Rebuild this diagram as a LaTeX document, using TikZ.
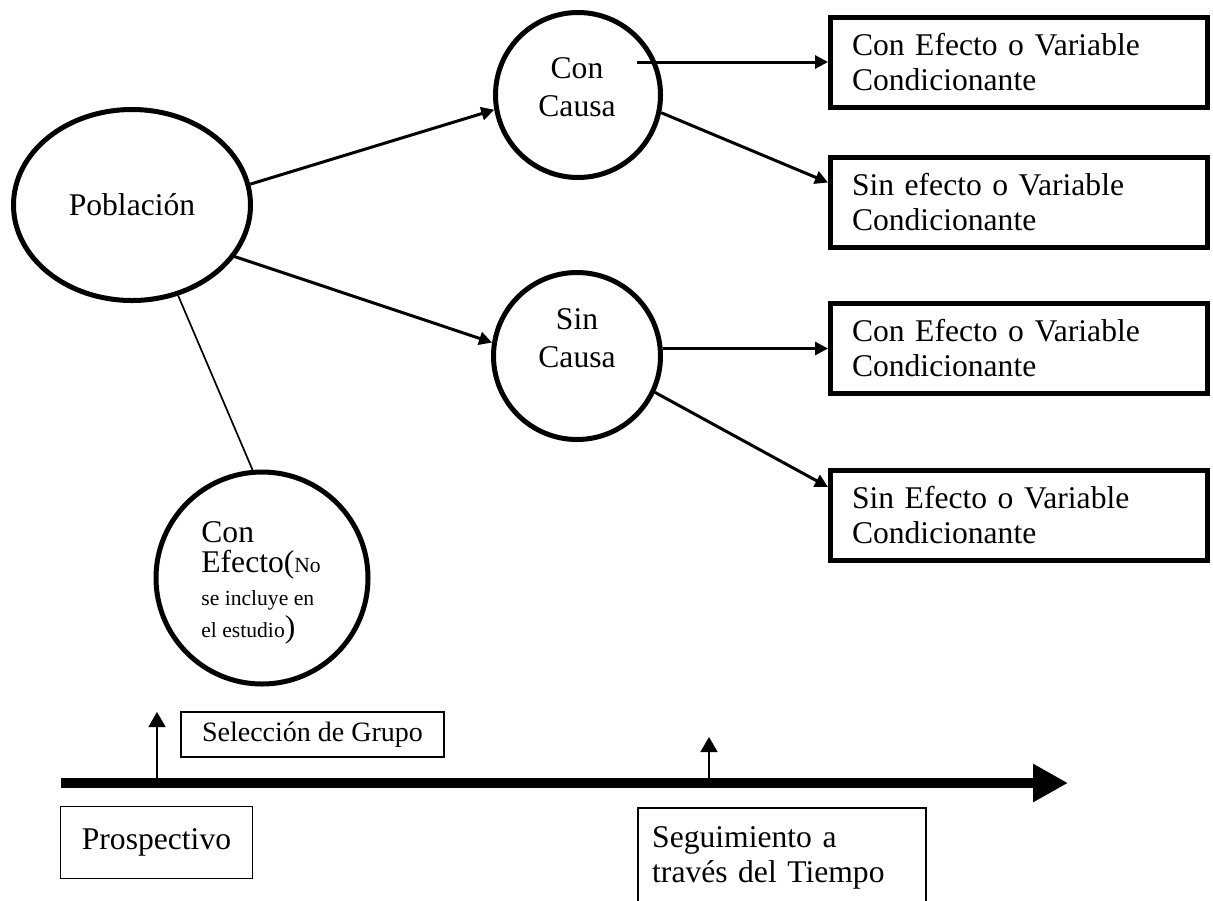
\documentclass[tikz,border=0pt]{standalone}
\usepackage{fontspec}
\setmainfont{Liberation Serif}
\usetikzlibrary{arrows.meta,calc,shapes.geometric}
\newcommand{\bigf}{\fontsize{15.8}{17.5}\selectfont}
\newcommand{\smallf}{\fontsize{10.8}{12}\selectfont}
\begin{document}
\begin{tikzpicture}[x=0.5pt,y=-0.5pt,
  thickcirc/.style={draw,circle,line width=2.5pt,inner sep=0pt},
  bigbox/.style={draw,rectangle,line width=2.5pt,minimum width=188.5pt,minimum height=45pt,
    text width=167pt,inner xsep=10.75pt,align=left,font=\bigf},
  thinbox/.style={draw,rectangle,line width=0.8pt,align=left,inner xsep=10pt},
  lbl/.style={inner sep=0pt,anchor=base west},
  arr/.style={line width=1.5pt,-{Triangle[length=6.5pt,width=6.5pt]}},
  uparr/.style={line width=0.85pt,-{Triangle[length=7.5pt,width=8.5pt]}},
  timeline/.style={line width=5pt,-{Triangle[length=17.5pt,width=18pt]}}
]
\useasboundingbox (0,0) rectangle (1213,900);

% circles / ellipse
\node[draw,ellipse,line width=2.5pt,minimum width=118.5pt,minimum height=95.5pt,inner sep=0pt,font=\bigf] (pop) at (132,205) {Población};
\node[thickcirc,minimum size=82.5pt] (cc) at (578,95) {};
\node[align=center,font=\bigf,inner sep=0pt] (cct) at (577,87) {Con\\[1.5pt]Causa};
\node[thickcirc,minimum size=83.5pt] (sc) at (577,356) {};
\node[align=center,font=\bigf,inner sep=0pt] (sct) at (577,338) {Sin\\[1.5pt]Causa};
\node[thickcirc,minimum size=106pt] (ce) at (262,578) {};
\node[lbl,font=\bigf] (ce1) at (201,542) {Con};
\node[lbl,font=\bigf] (ce2) at (201,572) {Efecto({\smallf No}};
\node[lbl,font=\smallf] (ce3) at (201,605) {se incluye en};
\node[lbl,font=\smallf] (ce4) at (201,637) {el estudio{\bigf )}};

% right boxes
\node[bigbox] (b1) at (1019,62.5) {Con Efecto o Variable\\Condicionante};
\node[bigbox] (b2) at (1019,202.5) {Sin efecto o Variable\\Condicionante};
\node[bigbox] (b3) at (1019,348) {Con Efecto o Variable\\Condicionante};
\node[bigbox] (b4) at (1019,515) {Sin Efecto o Variable\\Condicionante};

% connectors
\draw[arr] (pop.10) -- (cc.190);
\draw[arr] ($(pop.center)+(98,50)$) -- (sc.171);
\draw[line width=0.85pt] (pop.-63) -- (ce.95);
\coordinate (ccs) at ($(cc.center)+(59,-33)$);
\draw[arr] (ccs) -- (ccs -| b1.west);
\draw[arr] (cc.-12) -- ($(b2.west)+(0,-20)$);
\draw[arr] (sc.5) -- (sc.5 -| b3.west);
\draw[arr] (sc.-25) -- ($(b4.west)+(0,-28)$);

% timeline
\coordinate (ts) at (61,783);
\coordinate (te) at (1068,783);
\draw[timeline] (ts) -- (te);
\coordinate (u1) at (157,783);
\coordinate (u1t) at (157,712);
\draw[uparr] (u1) -- (u1t);
\coordinate (u2) at (709,783);
\coordinate (u2t) at (709,737);
\draw[uparr] (u2) -- (u2t);

% bottom boxes
\node[thinbox,minimum width=131.7pt,minimum height=22.7pt,font=\fontsize{14}{16}\selectfont] (sel) at (312.5,734.5) {Selección de Grupo};
\node[thinbox,minimum width=96pt,minimum height=36pt,font=\bigf] (pro) at (156.5,842.5) {Prospectivo};
\node[thinbox,anchor=north west,minimum width=143.5pt,minimum height=50pt,text width=130pt,inner xsep=7pt,font=\bigf] (seg) at (637.4,807.4) {Seguimiento a\\través del Tiempo};
\end{tikzpicture}
\end{document}
